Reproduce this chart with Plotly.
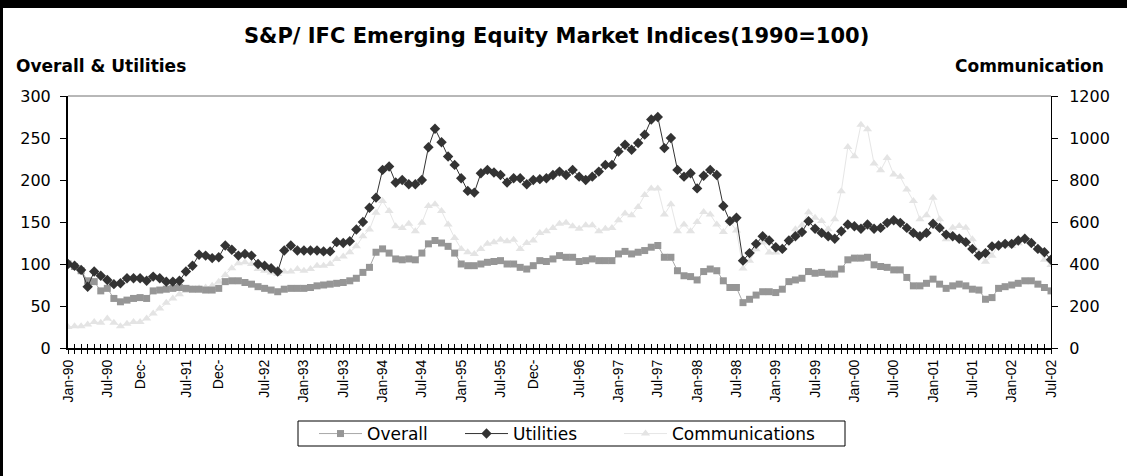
import plotly.graph_objects as go

# ---------------- data ----------------
month_names = ["Jan", "Feb", "Mar", "Apr", "May", "Jun", "Jul", "Aug", "Sep", "Oct", "Nov", "Dec"]
categories = [f"{month_names[m]}-{(90 + y) % 100:02d}" for y in range(13) for m in range(12)][:151]

tick_positions = [0, 6, 11, 18, 23, 30, 36, 42, 48, 54, 60, 66, 71, 78, 84, 90, 96,
                  102, 108, 114, 120, 126, 132, 138, 144, 150]
tick_labels = ["Jan-90", "Jul-90", "Dec-", "Jul-91", "Dec-", "Jul-92", "Jan-93", "Jul-93",
               "Jan-94", "Jul-94", "Jan-95", "Jul-95", "Dec-", "Jul-96", "Jan-97", "Jul-97",
               "Jan-98", "Jul-98", "Jan-99", "Jul-99", "Jan-00", "Jul-00", "Jan-01", "Jul-01",
               "Jan-02", "Jul-02"]

overall = [100, 97, 92, 80, 79, 68, 71, 59, 55, 57,
           59, 60, 59, 68, 69, 70, 71, 72, 71, 70,
           70, 69, 69, 71, 79, 80, 80, 78, 76, 73,
           71, 69, 67, 70, 71, 71, 71, 72, 74, 75,
           76, 77, 78, 80, 83, 90, 96, 114, 118, 113,
           106, 105, 106, 105, 113, 124, 128, 125, 121, 113,
           100, 98, 98, 100, 102, 103, 104, 100, 100, 96,
           94, 98, 104, 103, 106, 110, 108, 108, 103, 104,
           106, 104, 104, 104, 112, 115, 112, 114, 116, 120,
           122, 108, 108, 92, 86, 85, 81, 91, 94, 92,
           80, 72, 72, 54, 58, 63, 67, 67, 66, 70,
           79, 81, 83, 91, 89, 90, 88, 88, 94, 105,
           107, 107, 108, 99, 97, 96, 93, 93, 84, 74,
           74, 77, 82, 76, 71, 74, 76, 74, 70, 69,
           58, 60, 71, 73, 75, 77, 80, 80, 76, 72,
           68]

utilities = [100, 98, 93, 73, 91, 86, 81, 76, 77, 83,
             83, 83, 80, 85, 83, 79, 79, 80, 91, 98,
             111, 110, 107, 108, 122, 117, 110, 112, 110, 100,
             98, 95, 91, 116, 122, 116, 116, 116, 116, 115,
             115, 126, 125, 127, 141, 150, 167, 179, 212, 216,
             197, 200, 195, 195, 200, 239, 261, 245, 228, 218,
             202, 187, 185, 208, 212, 209, 206, 197, 202, 202,
             195, 200, 201, 202, 206, 210, 206, 212, 204, 200,
             204, 210, 218, 218, 234, 242, 236, 244, 254, 272,
             275, 238, 250, 212, 204, 208, 190, 205, 212, 206,
             169, 151, 155, 104, 113, 124, 133, 128, 120, 118,
             128, 133, 138, 151, 142, 137, 133, 130, 139, 147,
             145, 142, 147, 142, 143, 149, 152, 149, 143, 137,
             133, 137, 148, 143, 135, 133, 130, 126, 118, 110,
             113, 121, 122, 124, 124, 128, 130, 125, 118, 114,
             105]

communications = [100, 104, 104, 112, 124, 120, 140, 120, 104, 116,
                  124, 124, 140, 164, 188, 216, 236, 256, 272, 280,
                  284, 288, 296, 316, 348, 380, 404, 408, 400, 376,
                  368, 360, 352, 364, 364, 376, 368, 376, 392, 392,
                  400, 424, 436, 456, 484, 532, 564, 644, 700, 652,
                  580, 572, 592, 556, 596, 676, 684, 652, 588, 524,
                  472, 456, 448, 472, 496, 504, 516, 508, 516, 472,
                  500, 512, 548, 556, 572, 592, 596, 580, 568, 584,
                  584, 556, 568, 572, 608, 640, 632, 672, 728, 760,
                  760, 636, 684, 556, 588, 556, 600, 648, 636, 588,
                  552, 600, 560, 379, 415, 470, 502, 455, 455, 480,
                  510, 565, 584, 647, 620, 605, 565, 613, 747, 957,
                  913, 1063, 1042, 878, 846, 905, 826, 815, 755, 700,
                  613, 632, 715, 613, 518, 573, 581, 573, 518, 455,
                  411, 439, 494, 494, 486, 499, 521, 502, 470, 420,
                  395]

# ---------------- geometry ----------------
W, H = 1127, 476
ML, MR, MT, MB = 68, 76, 96, 128
PW, PH = W - ML - MR, H - MT - MB


def px_x(px):
    return (px - ML) / PW


def px_y(py):
    return (MT + PH - py) / PH


ticktext = ["" for _ in categories]
for p, lab in zip(tick_positions, tick_labels):
    ticktext[p] = lab

TXT = "DejaVu Sans"
ARIAL = "Liberation Sans, Arial"

fig = go.Figure()

fig.add_trace(go.Scatter(
    x=categories, y=communications, name="Communications", mode="lines+markers",
    xaxis="x", yaxis="y", legend="legend3",
    line=dict(color="#E6E6E6", width=1),
    marker=dict(symbol="triangle-up", size=8, color="#E4E4E4"),
))
fig.add_trace(go.Scatter(
    x=categories, y=overall, name="Overall", mode="lines+markers",
    xaxis="x", yaxis="y2", legend="legend",
    line=dict(color="#A8A8A8", width=1),
    marker=dict(symbol="square", size=7, color="#969696"),
))
fig.add_trace(go.Scatter(
    x=categories, y=utilities, name="Utilities", mode="lines+markers",
    xaxis="x", yaxis="y2", legend="legend2",
    line=dict(color="#333333", width=1),
    marker=dict(symbol="diamond", size=8, color="#333333"),
))
# carrier for the inner half of the crossing tick marks
fig.add_trace(go.Scatter(
    x=categories, y=[None] * len(categories), xaxis="x2", yaxis="y",
    showlegend=False, hoverinfo="skip", mode="lines",
))


def legend_at(px):
    return dict(
        orientation="h", x=px_x(px), xanchor="left", y=px_y(434), yanchor="middle",
        borderwidth=0, bgcolor="rgba(0,0,0,0)",
        font=dict(family=TXT, size=17, color="black"), itemwidth=43,
    )


fig.update_layout(
    width=W, height=H,
    margin=dict(l=ML, r=MR, t=MT, b=MB, pad=0, autoexpand=False),
    paper_bgcolor="white", plot_bgcolor="white",
    showlegend=True,
    xaxis=dict(
        type="category", range=[0, 150], tickmode="array",
        tickvals=categories, ticktext=ticktext, tickangle=-90,
        ticks="outside", ticklen=4, tickwidth=1, tickcolor="black",
        showline=True, linecolor="black", linewidth=2,
        showgrid=False, zeroline=False, anchor="y",
        tickfont=dict(family=ARIAL, size=14, color="black"),
    ),
    xaxis2=dict(
        type="category", matches="x", overlaying="x", anchor="y", side="bottom",
        tickmode="array", tickvals=categories, ticks="inside", ticklen=4,
        tickwidth=1, tickcolor="black", showticklabels=False,
        showline=False, showgrid=False, zeroline=False,
    ),
    yaxis=dict(
        range=[0, 1200], dtick=200, side="right", anchor="x",
        ticks="outside", ticklen=6, tickcolor="black",
        showline=True, linecolor="black", linewidth=1,
        showgrid=False, zeroline=False, ticklabelstandoff=8,
        tickfont=dict(family=TXT, size=16, color="black"),
    ),
    yaxis2=dict(
        range=[0, 300], dtick=50, side="left", overlaying="y", anchor="x",
        ticks="outside", ticklen=6, tickcolor="black",
        showline=True, linecolor="black", linewidth=2,
        showgrid=False, zeroline=False, ticklabelstandoff=6,
        tickfont=dict(family=TXT, size=16, color="black"),
    ),
    legend=legend_at(314),
    legend2=legend_at(460),
    legend3=legend_at(619),
    shapes=[
        dict(type="line", xref="paper", yref="paper", x0=0, x1=1, y0=1, y1=1,
             line=dict(color="#707070", width=1)),
        dict(type="rect", xref="paper", yref="paper", x0=px_x(298), x1=px_x(845),
             y0=px_y(446), y1=px_y(421), line=dict(color="black", width=1),
             fillcolor="rgba(0,0,0,0)", layer="below"),
        dict(type="rect", xref="paper", yref="paper", x0=px_x(0), x1=px_x(W),
             y0=px_y(8), y1=px_y(0), fillcolor="black", line=dict(width=0)),
        dict(type="rect", xref="paper", yref="paper", x0=px_x(0), x1=px_x(3),
             y0=px_y(H), y1=px_y(0), fillcolor="black", line=dict(width=0)),
    ],
    annotations=[
        dict(text="<b>S&P/ IFC Emerging Equity Market Indices(1990=100)</b>",
             xref="paper", yref="paper", x=px_x(556), y=px_y(36),
             xanchor="center", yanchor="middle", showarrow=False,
             font=dict(family=TXT, size=21, color="black")),
        dict(text="<b>Overall & Utilities</b>", xref="paper", yref="paper",
             x=px_x(14), y=px_y(66), xanchor="left", yanchor="middle", showarrow=False,
             font=dict(family=TXT, size=17, color="black")),
        dict(text="<b>Communication</b>", xref="paper", yref="paper",
             x=px_x(1106), y=px_y(66), xanchor="right", yanchor="middle", showarrow=False,
             font=dict(family=TXT, size=17, color="black")),
    ],
)

fig.write_html(
    "out.html",
    config={"displayModeBar": False},
    post_script="document.body.style.margin='0';document.body.style.padding='0';"
                "document.body.style.overflow='hidden';",
)
